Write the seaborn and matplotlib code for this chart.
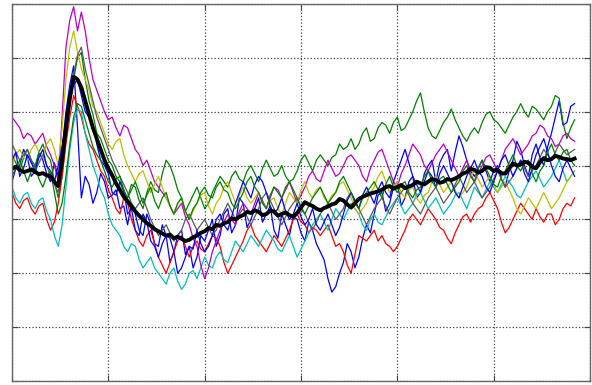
import numpy as np
import pandas as pd
import matplotlib
matplotlib.use("Agg")
import matplotlib.pyplot as plt
import seaborn as sns

# sample positions (every 4 units along the time axis)
time = np.arange(0, 585, 4)

trial_blue_a = [
    -0.3, -0.05, 0.0, 0.3, 0.15, -0.2, -0.1, 0.25, 0.1, -0.15, -0.3, 0.05, -0.2, 0.3, 1.0, 1.5,
    1.85, 0.7, -0.6, -0.2, -0.35, -0.7, -0.5, -0.15, -0.3, -0.6, -0.55, -0.45, -0.8, -0.75, -1.1, -0.7,
    -0.9, -1.2, -1.3, -0.9, -1.1, -1.45, -1.5, -1.1, -1.3, -1.8, -1.6, -1.3, -1.2, -1.65, -1.5, -1.9,
    -1.7, -1.3, -1.4, -1.2, -1.0, -1.5, -1.3, -0.9, -0.8, -1.25, -1.1, -0.6, -0.7, -1.15, -1.0, -0.8,
    -0.6, -1.05, -0.9, -0.75, -1.2, -1.35, -0.9, -1.1, -1.3, -0.95, -1.0, -1.25, -1.4, -1.05, -1.2, -1.45,
    -1.6, -1.75, -2.1, -2.35, -2.25, -2.0, -1.8, -1.45, -1.6, -1.9, -1.7, -1.35, -1.1, -1.25, -0.9, -0.55,
    -0.5, -0.85, -0.7, -0.4, -0.3, -0.75, -0.6, -0.3, -0.2, -0.6, -0.5, -0.15, 0.0, 0.1, -0.3, 0.05,
    0.2, 0.3, -0.1, 0.25, 0.55, 0.35, 0.1, -0.1, -0.2, -0.05, 0.1, -0.1, -0.3, -0.1, 0.0, -0.25,
    -0.4, -0.1, 0.1, 0.45, 0.3, 0.0, -0.2, 0.2, 0.4, 0.15, 0.0, 0.35, 0.6, 0.9, 1.2, 0.75,
    0.8, 1.1, 1.15]
trial_blue_b = [
    0.1, 0.25, -0.2, -0.05, 0.2, 0.05, -0.1, 0.15, 0.3, 0.0, -0.1, -0.3, 0.0, 0.35, 0.8, 1.3,
    1.5, 1.6, 1.3, 1.0, 0.9, 0.75, 0.4, 0.1, 0.0, -0.15, -0.5, -0.55, -0.3, -0.45, -0.9, -0.8,
    -1.2, -1.3, -0.9, -1.05, -1.4, -1.5, -1.7, -1.45, -1.3, -1.35, -1.6, -2.0, -1.9, -1.7, -1.5, -1.55,
    -1.2, -1.45, -1.6, -1.5, -1.3, -1.0, -0.9, -1.1, -1.2, -0.95, -0.7, -0.5, -0.3, -0.45, -0.6, -0.35,
    -0.2, -0.3, -0.5, -0.75, -0.9, -0.8, -0.6, -0.85, -1.0, -0.9, -0.7, -0.95, -1.1, -1.0, -0.8, -1.1,
    -1.2, -1.05, -0.9, -1.1, -1.3, -1.15, -0.9, -0.65, -0.5, -0.65, -0.8, -0.55, -0.4, -0.55, -0.7, -0.45,
    -0.3, -0.5, -0.6, -0.3, -0.1, 0.1, 0.3, 0.05, -0.2, -0.35, -0.5, -0.3, -0.1, -0.2, -0.4, -0.15,
    0.0, -0.15, -0.3, -0.5, -0.6, -0.4, -0.2, -0.05, 0.1, -0.1, -0.2, -0.4, -0.5, -0.3, -0.1, 0.1,
    0.2, 0.0, -0.2, -0.05, 0.1, -0.15, -0.3, -0.05, 0.2, 0.35, 0.5, 0.25, 0.0, -0.2, -0.3, -0.05,
    0.1, -0.05, -0.2]
trial_green_a = [
    0.2, 0.05, -0.1, 0.15, 0.3, 0.1, 0.0, 0.25, 0.4, 0.2, 0.1, -0.3, -0.6, -0.2, 0.5, 1.1,
    1.6, 2.0, 2.1, 1.6, 1.2, 0.95, 0.6, 0.5, 0.3, 0.1, 0.0, -0.2, -0.3, -0.5, -0.6, -0.35,
    -0.4, -0.65, -0.8, -0.5, -0.3, -0.45, -0.5, -0.15, 0.1, 0.0, -0.2, -0.45, -0.6, -0.85, -0.7, -0.55,
    -0.4, -0.6, -0.8, -0.7, -0.5, -0.35, -0.2, -0.3, -0.4, -0.2, -0.1, -0.25, -0.3, -0.1, 0.0, -0.15,
    -0.3, -0.05, 0.1, -0.05, -0.2, -0.15, 0.0, -0.2, -0.3, -0.25, -0.1, 0.1, 0.2, 0.05, -0.1, 0.1,
    0.2, 0.1, 0.0, 0.15, 0.2, 0.4, 0.3, 0.35, 0.5, 0.3, 0.4, 0.6, 0.7, 0.45, 0.5, 0.7,
    0.8, 0.75, 0.6, 0.8, 0.9, 0.65, 0.7, 0.85, 1.0, 1.2, 1.35, 1.0, 0.7, 0.55, 0.5, 0.65,
    0.8, 0.9, 1.05, 0.85, 0.7, 0.55, 0.45, 0.6, 0.7, 0.6, 0.8, 0.95, 1.0, 0.85, 0.8, 0.7,
    0.6, 0.75, 0.9, 1.0, 1.15, 1.0, 0.9, 1.1, 1.05, 0.95, 0.85, 1.0, 1.1, 1.3, 1.25, 0.8,
    0.5, 0.7, 0.85]
trial_green_b = [
    -0.2, -0.05, 0.1, -0.1, -0.3, -0.1, 0.0, -0.25, -0.4, -0.2, -0.1, -0.5, -0.9, -0.7, -0.2, 0.4,
    0.9, 1.15, 1.1, 0.85, 0.6, 0.35, 0.2, 0.1, -0.1, -0.3, -0.4, -0.25, -0.2, -0.45, -0.6, -0.45,
    -0.3, -0.5, -0.7, -0.55, -0.4, -0.65, -0.8, -0.6, -0.5, -0.75, -0.9, -0.7, -0.6, -0.85, -1.0, -0.8,
    -0.7, -0.5, -0.4, -0.55, -0.6, -0.4, -0.3, -0.45, -0.5, -0.7, -0.8, -0.65, -0.5, -0.3, -0.2, -0.4,
    -0.5, -0.7, -0.8, -0.55, -0.4, -0.5, -0.6, -0.4, -0.3, -0.45, -0.6, -0.8, -0.9, -0.75, -0.6, -0.5,
    -0.4, -0.55, -0.7, -0.6, -0.5, -0.3, -0.2, -0.35, -0.5, -0.7, -0.8, -0.6, -0.5, -0.4, -0.3, -0.45,
    -0.6, -0.35, -0.2, -0.4, -0.5, -0.35, -0.3, -0.5, -0.6, -0.45, -0.4, -0.2, -0.1, -0.3, -0.4, -0.25,
    -0.2, -0.35, -0.5, -0.4, -0.3, -0.1, 0.0, -0.2, -0.3, -0.05, 0.1, -0.05, -0.2, -0.35, -0.4, -0.2,
    -0.1, 0.05, 0.2, 0.0, -0.1, 0.05, 0.1, -0.15, -0.3, -0.1, 0.0, 0.25, 0.4, 0.2, 0.1, 0.25,
    0.3, 0.1, 0.0]
trial_red = [
    -0.5, -0.7, -0.8, -0.65, -0.6, -0.8, -0.9, -0.75, -0.7, -1.0, -1.2, -1.05, -0.7, -0.2, 0.4, 0.9,
    1.3, 1.1, 0.9, 0.6, 0.4, 0.3, 0.1, -0.1, -0.2, -0.45, -0.6, -0.8, -0.9, -0.6, -0.7, -1.0,
    -1.2, -1.4, -1.5, -1.3, -1.2, -1.45, -1.7, -1.85, -2.0, -1.8, -1.6, -1.4, -1.3, -1.5, -1.7, -1.5,
    -1.4, -1.55, -1.6, -1.45, -1.3, -1.35, -1.5, -1.8, -2.0, -1.85, -1.7, -1.55, -1.4, -1.2, -1.1, -1.3,
    -1.4, -1.5, -1.6, -1.45, -1.3, -1.4, -1.5, -1.35, -1.2, -1.0, -0.9, -1.05, -1.1, -1.25, -1.15, -1.2,
    -1.3, -1.2, -1.1, -1.3, -1.5, -1.45, -1.6, -1.85, -2.0, -1.65, -1.3, -1.35, -1.4, -1.3, -1.2, -1.4,
    -1.3, -1.45, -1.5, -1.6, -1.5, -1.35, -1.2, -1.0, -0.9, -1.0, -1.1, -0.95, -0.8, -0.9, -1.0, -1.15,
    -1.2, -1.35, -1.45, -1.25, -1.1, -0.95, -0.9, -1.05, -0.9, -0.8, -0.75, -0.6, -0.5, -0.65, -0.8, -1.05,
    -1.25, -1.15, -1.0, -0.85, -0.7, -0.8, -0.9, -1.0, -0.8, -0.95, -1.05, -0.9, -0.9, -1.1, -1.0, -0.8,
    -0.7, -0.75, -0.6]
trial_cyan = [
    -0.4, -0.6, -0.7, -0.55, -0.5, -0.7, -0.8, -0.65, -0.6, -0.85, -1.0, -1.3, -1.5, -1.1, -0.4, 0.3,
    0.8, 1.05, 1.0, 0.6, 0.3, 0.0, -0.2, -0.45, -0.6, -0.9, -1.1, -1.2, -1.3, -1.5, -1.6, -1.45,
    -1.5, -1.75, -1.9, -1.8, -1.7, -1.9, -2.0, -2.1, -2.2, -2.0, -1.9, -2.15, -2.3, -2.2, -2.0, -1.95,
    -2.1, -1.9, -1.7, -1.85, -1.9, -1.7, -1.6, -1.75, -1.8, -1.6, -1.4, -1.5, -1.6, -1.45, -1.3, -1.4,
    -1.5, -1.35, -1.2, -1.3, -1.4, -1.55, -1.6, -1.45, -1.3, -1.5, -1.7, -1.55, -1.4, -1.25, -1.1, -1.0,
    -0.9, -1.05, -1.2, -1.0, -0.8, -0.9, -1.0, -0.85, -0.7, -0.8, -0.9, -1.1, -1.2, -1.0, -0.9, -1.05,
    -1.1, -0.95, -0.8, -0.7, -0.6, -0.75, -0.9, -0.8, -0.7, -0.55, -0.5, -0.65, -0.8, -0.7, -0.6, -0.75,
    -0.9, -0.8, -0.7, -0.55, -0.5, -0.65, -0.8, -0.6, -0.4, -0.5, -0.6, -0.45, -0.3, -0.4, -0.5, -0.35,
    -0.2, -0.3, -0.4, -0.55, -0.6, -0.45, -0.3, -0.2, -0.1, -0.25, -0.4, -0.3, -0.2, -0.05, 0.1, -0.1,
    -0.3, -0.2, -0.1]
trial_magenta = [
    0.9, 0.8, 0.7, 0.5, 0.6, 0.55, 0.4, 0.5, 0.6, 0.35, 0.2, 0.0, -0.3, 0.9, 2.2, 2.7,
    2.95, 2.5, 2.85, 2.5, 2.0, 1.6, 1.4, 1.2, 1.0, 0.85, 0.9, 0.7, 0.55, 0.75, 0.7, 0.5,
    0.3, 0.2, 0.0, 0.1, -0.1, -0.3, -0.4, -0.5, -0.6, -0.75, -0.9, -0.8, -0.7, -0.95, -1.1, -1.35,
    -1.5, -1.85, -2.1, -1.9, -1.6, -1.4, -1.2, -1.05, -0.9, -1.0, -1.1, -0.85, -0.7, -0.8, -0.9, -0.7,
    -0.5, -0.65, -0.8, -0.6, -0.4, -0.45, -0.6, -0.45, -0.3, -0.5, -0.7, -0.55, -0.4, -0.2, -0.1, -0.25,
    -0.3, -0.1, 0.1, -0.05, -0.2, -0.15, 0.0, 0.15, 0.2, 0.1, 0.0, -0.2, -0.3, -0.05, 0.1, 0.25,
    0.3, 0.1, -0.1, -0.3, -0.4, -0.15, 0.0, 0.2, 0.4, 0.3, 0.2, 0.0, -0.1, 0.05, 0.2, 0.3,
    0.4, 0.25, 0.1, -0.05, -0.2, -0.05, 0.1, -0.15, -0.3, -0.15, 0.0, 0.15, 0.2, 0.05, -0.1, 0.1,
    0.3, 0.4, 0.5, 0.35, 0.2, 0.3, 0.4, 0.55, 0.6, 0.75, 0.7, 0.55, 0.5, 0.35, 0.4, 0.55,
    0.6, 0.5, 0.45]
trial_yellow = [
    0.0, 0.2, 0.3, 0.15, 0.1, 0.3, 0.4, 0.25, 0.2, 0.4, 0.5, 0.3, 0.0, 0.7, 1.6, 2.2,
    2.5, 2.1, 1.8, 1.6, 1.4, 1.1, 1.0, 0.8, 0.6, 0.4, 0.3, 0.45, 0.5, 0.2, 0.0, -0.15,
    -0.3, -0.15, -0.1, -0.3, -0.5, -0.35, -0.2, -0.4, -0.6, -0.75, -0.9, -0.7, -0.6, -0.85, -1.0, -0.85,
    -0.7, -0.55, -0.5, -0.75, -0.9, -0.7, -0.6, -0.4, -0.3, -0.5, -0.7, -0.55, -0.4, -0.6, -0.7, -0.6,
    -0.5, -0.7, -0.8, -0.65, -0.6, -0.8, -0.9, -0.7, -0.5, -0.6, -0.7, -0.45, -0.3, -0.5, -0.6, -0.45,
    -0.4, -0.6, -0.7, -0.55, -0.5, -0.35, -0.3, -0.45, -0.6, -0.8, -0.9, -0.8, -0.7, -0.5, -0.4, -0.2,
    -0.1, -0.3, -0.5, -0.4, -0.3, -0.5, -0.6, -0.45, -0.4, -0.6, -0.7, -0.55, -0.5, -0.3, -0.2, -0.35,
    -0.5, -0.4, -0.3, -0.45, -0.6, -0.5, -0.4, -0.2, -0.1, -0.25, -0.4, -0.3, -0.2, -0.35, -0.5, -0.4,
    -0.3, -0.45, -0.6, -0.8, -0.9, -0.75, -0.6, -0.7, -0.8, -0.65, -0.5, -0.65, -0.8, -0.7, -0.6, -0.45,
    -0.3, -0.2, -0.1]
trial_gray = [
    0.4, 0.25, 0.1, 0.2, 0.3, 0.1, -0.1, 0.05, 0.2, 0.0, -0.2, -0.35, -0.5, 0.0, 0.6, 1.2,
    1.7, 2.05, 2.2, 1.8, 1.5, 1.2, 0.9, 0.7, 0.5, 0.3, 0.1, -0.05, -0.2, -0.35, -0.5, -0.7,
    -0.8, -0.7, -0.6, -0.8, -1.0, -1.15, -1.3, -1.2, -1.1, -1.25, -1.4, -1.3, -1.2, -1.0, -0.9, -1.05,
    -1.2, -1.1, -1.0, -1.15, -1.3, -1.2, -1.0, -0.85, -0.7, -0.85, -1.0, -0.9, -0.8, -0.95, -1.1, -0.95,
    -0.8, -0.6, -0.5, -0.65, -0.8, -0.95, -1.1, -0.95, -0.8, -0.7, -0.6, -0.75, -0.9, -1.05, -1.2, -1.05,
    -0.9, -0.8, -0.7, -0.85, -1.0, -0.9, -0.8, -0.6, -0.5, -0.65, -0.8, -0.95, -1.1, -0.95, -0.8, -0.7,
    -0.6, -0.75, -0.9, -0.75, -0.6, -0.5, -0.4, -0.55, -0.7, -0.8, -0.9, -0.75, -0.6, -0.5, -0.4, -0.55,
    -0.7, -0.6, -0.5, -0.35, -0.2, -0.35, -0.5, -0.4, -0.3, -0.45, -0.6, -0.5, -0.4, -0.25, -0.1, -0.25,
    -0.4, -0.3, -0.2, -0.05, 0.1, -0.05, -0.2, -0.1, 0.0, 0.15, 0.3, 0.2, 0.1, 0.25, 0.4, 0.3,
    0.2, 0.25, 0.3]
mean_trace = [
    -0.06, -0.02, -0.08, -0.12, -0.10, -0.07, -0.12, -0.16, -0.14, -0.18, -0.20, -0.30, -0.38, 0.10, 0.70, 1.25,
    1.65, 1.60, 1.45, 1.20, 0.95, 0.70, 0.50, 0.30, 0.10, -0.05, -0.18, -0.33, -0.45, -0.58, -0.66, -0.76,
    -0.85, -0.93, -1.00, -1.07, -1.12, -1.18, -1.22, -1.26, -1.30, -1.28, -1.35, -1.32, -1.36, -1.40, -1.38, -1.33,
    -1.30, -1.25, -1.22, -1.16, -1.18, -1.10, -1.12, -1.07, -1.05, -0.98, -1.00, -0.95, -0.92, -0.86, -0.88, -0.83,
    -0.86, -0.92, -0.90, -0.84, -0.85, -0.93, -0.90, -0.87, -0.92, -0.95, -0.88, -0.78, -0.68, -0.72, -0.75, -0.80,
    -0.83, -0.79, -0.76, -0.72, -0.70, -0.62, -0.65, -0.72, -0.78, -0.70, -0.62, -0.58, -0.55, -0.52, -0.50, -0.48,
    -0.45, -0.40, -0.38, -0.43, -0.40, -0.36, -0.42, -0.39, -0.36, -0.30, -0.33, -0.35, -0.30, -0.25, -0.27, -0.32,
    -0.30, -0.25, -0.27, -0.24, -0.20, -0.15, -0.12, -0.06, -0.08, -0.13, -0.10, -0.03, -0.04, -0.10, -0.08, -0.14,
    -0.15, -0.06, 0.04, 0.00, 0.02, 0.07, 0.05, -0.02, -0.05, 0.06, 0.14, 0.10, 0.12, 0.18, 0.16, 0.13,
    0.12, 0.10, 0.13]

trials = {
    "blue_a": trial_blue_a,
    "green_a": trial_green_a,
    "red": trial_red,
    "cyan": trial_cyan,
    "magenta": trial_magenta,
    "yellow": trial_yellow,
    "gray": trial_gray,
    "blue_b": trial_blue_b,
    "green_b": trial_green_b,
}
trial_colors = {
    "blue_a": (0, 0, 1), "green_a": (0, 0.5, 0), "red": (1, 0, 0),
    "cyan": (0, 0.75, 0.75), "magenta": (0.75, 0, 0.75),
    "yellow": (0.75, 0.75, 0), "gray": (0.35, 0.35, 0.35),
    "blue_b": (0, 0, 1), "green_b": (0, 0.5, 0),
}

df = pd.concat(
    [pd.DataFrame({"time": time, "value": v, "trial": k}) for k, v in trials.items()],
    ignore_index=True,
)

fig = plt.figure(figsize=(5.92, 3.85), dpi=100)
ax = fig.add_axes([12 / 592, 4 / 385, 578 / 592, 377 / 385])

sns.lineplot(data=df, x="time", y="value", hue="trial", palette=trial_colors,
             estimator=None, units="trial", linewidth=0.9, legend=False, ax=ax)
sns.lineplot(x=time, y=mean_trace, color="black", linewidth=2.8, ax=ax)

ax.set_xlim(0, 600)
ax.set_ylim(-4, 3)
ax.set_xticks(range(0, 601, 100))
ax.set_yticks(range(-4, 4))
ax.grid(True, linestyle=":", color="#444444", linewidth=0.9)
ax.set_axisbelow(True)
ax.tick_params(direction="in", length=4, top=True, right=True,
               labelbottom=False, labelleft=False, color="#444444")
ax.set_xlabel("")
ax.set_ylabel("")
for s in ax.spines.values():
    s.set_color("#666666")
    s.set_linewidth(1.0)

fig.savefig("out.png", dpi=100)
